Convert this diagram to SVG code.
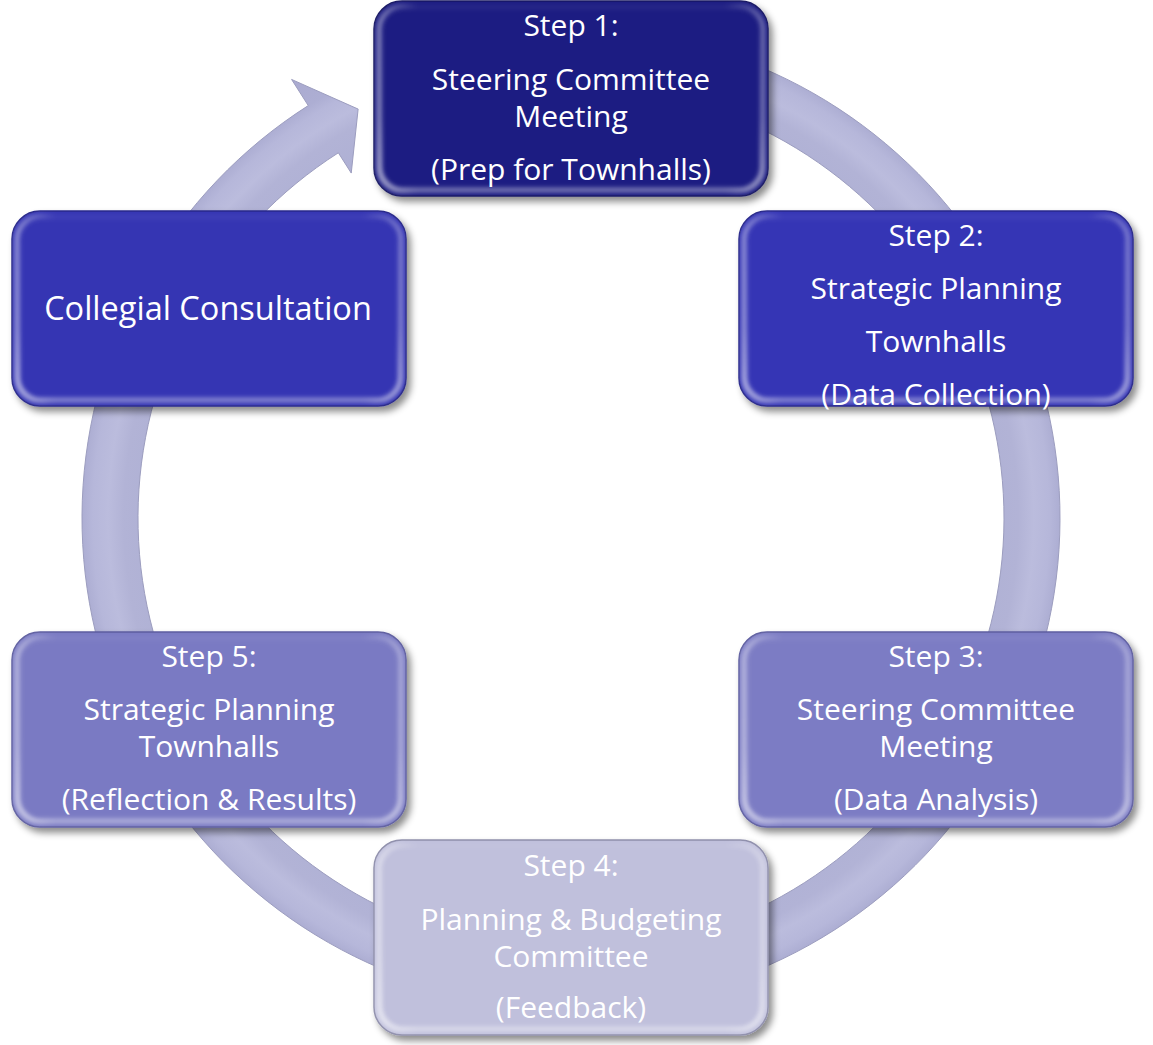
<svg xmlns="http://www.w3.org/2000/svg" width="1153" height="1045" viewBox="0 0 1153 1045">
  <defs>
    <filter id="shadow" x="-10%" y="-10%" width="125%" height="130%">
      <feDropShadow dx="4" dy="5" stdDeviation="3.5" flood-color="#000" flood-opacity="0.45"/>
    </filter>
    <filter id="soft" x="-5%" y="-5%" width="110%" height="110%">
      <feGaussianBlur stdDeviation="2"/>
    </filter>
    <radialGradient id="ringGrad" gradientUnits="userSpaceOnUse" cx="571" cy="518" r="520">
      <stop offset="0.78" stop-color="#aeb0d4"/>
      <stop offset="0.86" stop-color="#b2b3d6"/>
      <stop offset="0.89" stop-color="#bbbcdd"/>
      <stop offset="0.92" stop-color="#b6b7da"/>
      <stop offset="0.94" stop-color="#adaed3"/>
      <stop offset="1" stop-color="#aaaad0"/>
    </radialGradient>
    <linearGradient id="bevel" x1="0" y1="0" x2="0" y2="1">
      <stop offset="0" stop-color="#fff" stop-opacity="0.05"/>
      <stop offset="0.6" stop-color="#fff" stop-opacity="0.12"/>
      <stop offset="1" stop-color="#fff" stop-opacity="0.4"/>
    </linearGradient>
    <linearGradient id="bevelL" x1="0" y1="0" x2="1" y2="0">
      <stop offset="0" stop-color="#fff" stop-opacity="0.4"/>
      <stop offset="0.1" stop-color="#fff" stop-opacity="0"/>
      <stop offset="0.9" stop-color="#fff" stop-opacity="0"/>
      <stop offset="1" stop-color="#fff" stop-opacity="0.3"/>
    </linearGradient>
    <style>
      .box { filter: url(#shadow); stroke-width: 1.5; }
      .hl { fill: none; stroke: url(#bevel); stroke-width: 5; filter: url(#soft); }
      .hl2 { fill: none; stroke: url(#bevelL); stroke-width: 5; filter: url(#soft); }
      .t { font-family: "Open Sans", "DejaVu Sans", sans-serif; font-size: 30px; fill: #ffffff; text-anchor: middle; }
      .big { font-size: 32.5px; }
      .ring { fill: url(#ringGrad); stroke: #9c9dbf; stroke-width: 1; }
    </style>
  </defs>

  <g id="connectors">
    <path class="ring" d="M 528.38 30.86 A 489 489 0 1 1 308.26 105.58 L 291.60 79.44 L 358.13 109.09 L 351.24 173.05 L 338.35 152.81 A 433 433 0 1 0 533.26 86.65 Z"/>
  </g>

  <g id="step1">
    <rect class="box" x="374" y="1" width="394" height="195" rx="28" fill="#1e1e82" stroke="#171763"/>
    <rect class="hl" x="380" y="7" width="382" height="183" rx="23"/>
    <rect class="hl2" x="379" y="6" width="384" height="185" rx="24"/>
    <text class="t" x="571" y="36">Step 1:</text>
    <text class="t" x="571" y="90">Steering Committee</text>
    <text class="t" x="571" y="127">Meeting</text>
    <text class="t" x="571" y="180">(Prep for Townhalls)</text>
  </g>

  <g id="collegial">
    <rect class="box" x="12" y="211" width="394" height="195" rx="28" fill="#3535b3" stroke="#28288a"/>
    <rect class="hl" x="18" y="217" width="382" height="183" rx="23"/>
    <rect class="hl2" x="17" y="216" width="384" height="185" rx="24"/>
    <text class="t big" x="208" y="320">Collegial Consultation</text>
  </g>

  <g id="step2">
    <rect class="box" x="739" y="211" width="394" height="195" rx="28" fill="#3535b5" stroke="#28288a"/>
    <rect class="hl" x="745" y="217" width="382" height="183" rx="23"/>
    <rect class="hl2" x="744" y="216" width="384" height="185" rx="24"/>
    <text class="t" x="936" y="246">Step 2:</text>
    <text class="t" x="936" y="299">Strategic Planning</text>
    <text class="t" x="936" y="352">Townhalls</text>
    <text class="t" x="936" y="405">(Data Collection)</text>
  </g>

  <g id="step3">
    <rect class="box" x="739" y="632" width="394" height="195" rx="28" fill="#7c7cc4" stroke="#5e5ea0"/>
    <rect class="hl" x="745" y="638" width="382" height="183" rx="23"/>
    <rect class="hl2" x="744" y="637" width="384" height="185" rx="24"/>
    <text class="t" x="936" y="667">Step 3:</text>
    <text class="t" x="936" y="720">Steering Committee</text>
    <text class="t" x="936" y="757">Meeting</text>
    <text class="t" x="936" y="810">(Data Analysis)</text>
  </g>

  <g id="step5">
    <rect class="box" x="12" y="632" width="394" height="195" rx="28" fill="#7a7ac3" stroke="#5e5ea0"/>
    <rect class="hl" x="18" y="638" width="382" height="183" rx="23"/>
    <rect class="hl2" x="17" y="637" width="384" height="185" rx="24"/>
    <text class="t" x="209" y="667">Step 5:</text>
    <text class="t" x="209" y="720">Strategic Planning</text>
    <text class="t" x="209" y="757">Townhalls</text>
    <text class="t" x="209" y="810">(Reflection &amp; Results)</text>
  </g>

  <g id="step4">
    <rect class="box" x="374" y="840" width="394" height="195" rx="28" fill="#c0c0dc" stroke="#8e8eab"/>
    <rect class="hl" x="380" y="846" width="382" height="183" rx="23"/>
    <rect class="hl2" x="379" y="845" width="384" height="185" rx="24"/>
    <text class="t" x="571" y="876">Step 4:</text>
    <text class="t" x="571" y="930">Planning &amp; Budgeting</text>
    <text class="t" x="571" y="967">Committee</text>
    <text class="t" x="571" y="1018">(Feedback)</text>
  </g>
</svg>
